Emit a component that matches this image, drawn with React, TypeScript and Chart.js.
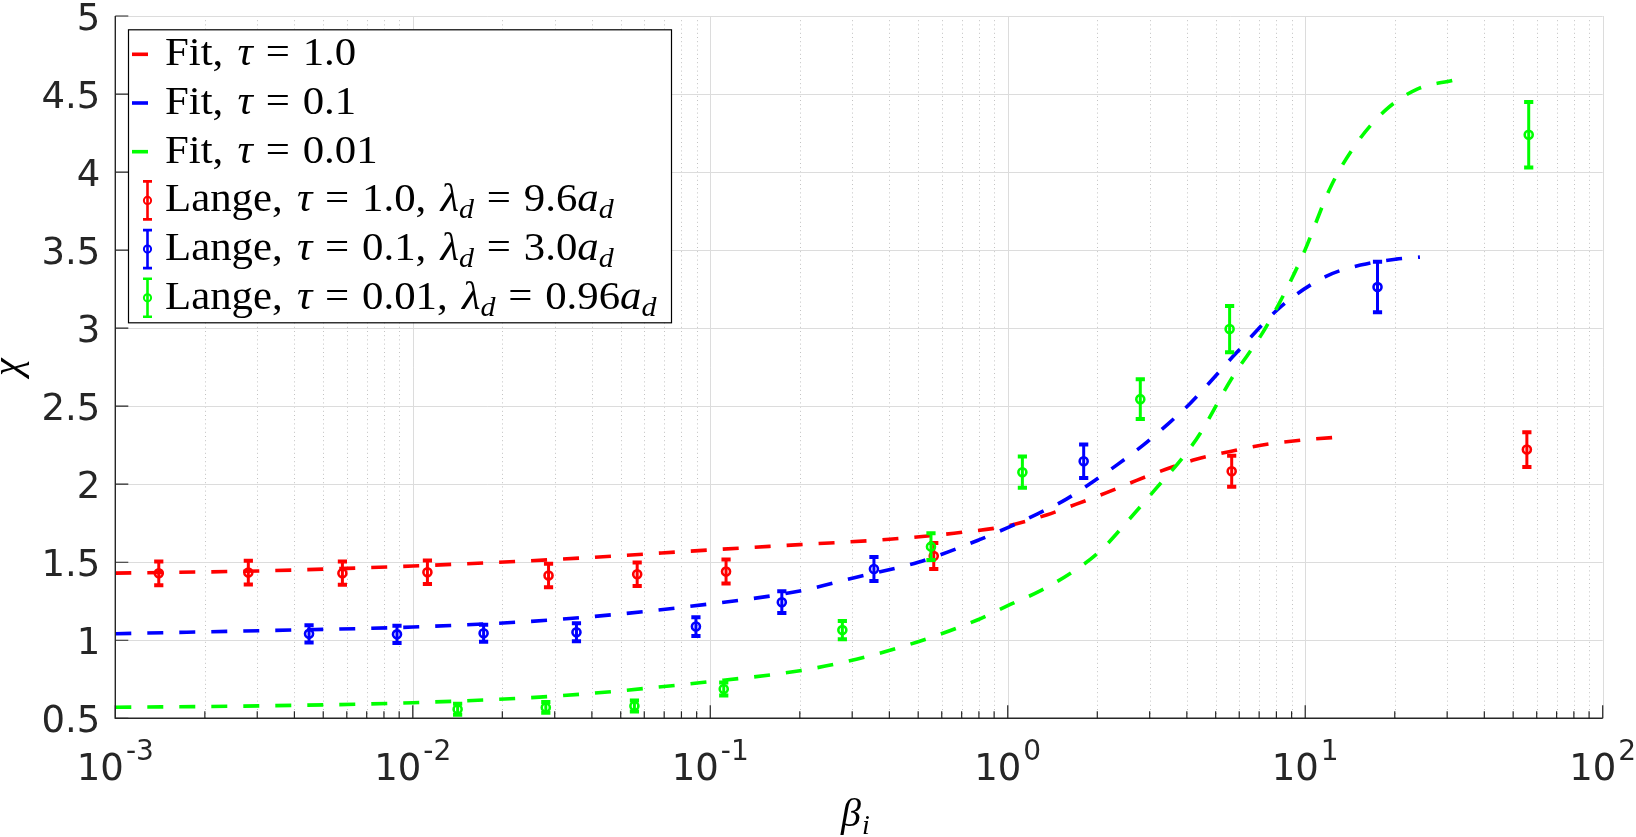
import React, { useEffect, useRef } from 'react';
import { Chart, registerables } from 'chart.js';

Chart.register(...registerables);

// fitted curves (beta_i -> chi)
const fitRedBeta = [0.001, 0.00316, 0.01, 0.0316, 0.1, 0.2, 0.4, 0.66, 1.0, 1.35, 1.7, 2.15, 2.7, 3.4, 4.3, 5.6, 7.1, 10, 13.8];
const fitRedChi = [1.43, 1.445, 1.476, 1.52, 1.579, 1.613, 1.647, 1.686, 1.733, 1.803, 1.872, 1.946, 2.023, 2.096, 2.16, 2.21, 2.25, 2.285, 2.305];

const fitBlueBeta = [0.001, 0.00316, 0.01, 0.0316, 0.1, 0.2, 0.31, 0.5, 0.8, 1.0, 1.26, 1.58, 1.95, 2.33, 2.86, 3.43, 4.11, 5.86, 8.3, 11.7, 15.5, 20.2, 24.3];
const fitBlueChi = [1.042, 1.062, 1.085, 1.135, 1.233, 1.316, 1.404, 1.5, 1.643, 1.722, 1.81, 1.906, 2.021, 2.124, 2.252, 2.38, 2.519, 2.84, 3.139, 3.33, 3.406, 3.442, 3.455];

const fitGreenBeta = [0.001, 0.00316, 0.01, 0.0316, 0.1, 0.2, 0.31, 0.5, 0.79, 1.0, 1.29, 1.67, 2.05, 2.58, 3.18, 3.9, 4.44, 5.62, 7.4, 9.77, 12.2, 14.9, 18.7, 23.7, 31.6];
const fitGreenChi = [0.571, 0.58, 0.6, 0.645, 0.735, 0.805, 0.878, 0.991, 1.13, 1.222, 1.318, 1.444, 1.574, 1.782, 1.981, 2.177, 2.327, 2.668, 3.01, 3.459, 3.908, 4.186, 4.4, 4.53, 4.59];

// Lange data with error bars
const langeRedBeta = [0.0014, 0.0028, 0.0058, 0.0112, 0.0286, 0.0568, 0.113, 0.564, 5.66, 55.6];
const langeRedChi = [1.429, 1.434, 1.43, 1.436, 1.415, 1.423, 1.44, 1.54, 2.083, 2.222];
const langeRedErr = [0.076, 0.076, 0.074, 0.075, 0.076, 0.075, 0.077, 0.083, 0.1, 0.111];

const langeBlueBeta = [0.00448, 0.00885, 0.0173, 0.0355, 0.0895, 0.174, 0.355, 1.8, 17.5];
const langeBlueChi = [1.041, 1.038, 1.045, 1.051, 1.088, 1.244, 1.457, 2.147, 3.263];
const langeBlueErr = [0.055, 0.055, 0.055, 0.058, 0.06, 0.07, 0.077, 0.107, 0.162];

const langeGreenBeta = [0.01415, 0.028, 0.0556, 0.111, 0.278, 0.552, 1.12, 2.79, 5.57, 56.4];
const langeGreenChi = [0.558, 0.57, 0.579, 0.688, 1.065, 1.6, 2.077, 2.545, 2.994, 4.239];
const langeGreenErr = [0.036, 0.035, 0.035, 0.042, 0.058, 0.085, 0.1, 0.127, 0.148, 0.21];

const yTicks = [0.5, 1, 1.5, 2, 2.5, 3, 3.5, 4, 4.5, 5];
const yTickLabels = ['0.5', '1', '1.5', '2', '2.5', '3', '3.5', '4', '4.5', '5'];
const xDecades = [-3, -2, -1, 0, 1, 2];
const xTickExps = ['-3', '-2', '-1', '0', '1', '2'];

type Seg = { t?: string; it?: boolean; sub?: boolean; gap?: number };

const fitLabel = (tau: string): Seg[] => [
  { t: 'Fit,' }, { gap: 0.333 }, { t: 'τ', it: true }, { gap: 0.3 }, { t: '=' }, { gap: 0.3 }, { t: tau },
];
const langeLabel = (tau: string, lam: string): Seg[] => [
  { t: 'Lange,' }, { gap: 0.333 }, { t: 'τ', it: true }, { gap: 0.3 }, { t: '=' }, { gap: 0.3 }, { t: tau + ',' },
  { gap: 0.333 }, { t: 'λ', it: true }, { t: 'd', it: true, sub: true }, { gap: 0.3 }, { t: '=' }, { gap: 0.3 },
  { t: lam }, { t: 'a', it: true }, { t: 'd', it: true, sub: true },
];

const legendEntries = [
  { kind: 'line', color: '#ff0000', label: fitLabel('1.0') },
  { kind: 'line', color: '#0000ff', label: fitLabel('0.1') },
  { kind: 'line', color: '#00ff00', label: fitLabel('0.01') },
  { kind: 'err', color: '#ff0000', label: langeLabel('1.0', '9.6') },
  { kind: 'err', color: '#0000ff', label: langeLabel('0.1', '3.0') },
  { kind: 'err', color: '#00ff00', label: langeLabel('0.01', '0.96') },
];

const toPoints = (xs: number[], ys: number[]) => xs.map((x, i) => ({ x, y: ys[i] }));

const AXIS = '#262626';
const SERIF = '"Liberation Serif", "DejaVu Serif", serif';
const SANS = '"DejaVu Sans", sans-serif';

function drawRich(ctx: CanvasRenderingContext2D, segs: Seg[], x: number, baseline: number, size: number) {
  for (const s of segs) {
    if (s.gap) { x += s.gap * size; continue; }
    const fs = s.sub ? size * 0.7 : size;
    ctx.font = `${s.it ? 'italic ' : ''}${fs}px ${SERIF}`;
    ctx.fillText(s.t as string, x, s.sub ? baseline + size * 0.17 : baseline);
    x += ctx.measureText(s.t as string).width;
  }
}

const errorBars = {
  id: 'errorBars',
  afterDatasetDraw(chart: any, args: any) {
    const ds = chart.data.datasets[args.index];
    if (!ds.errors) return;
    const { ctx } = chart;
    const xs = chart.scales.x;
    const ys = chart.scales.y;
    ctx.save();
    ctx.strokeStyle = ds.borderColor;
    ds.data.forEach((p: any, i: number) => {
      const px = xs.getPixelForValue(p.x);
      const top = ys.getPixelForValue(p.y + ds.errors[i]);
      const bot = ys.getPixelForValue(p.y - ds.errors[i]);
      ctx.lineWidth = 3;
      ctx.beginPath();
      ctx.moveTo(px, top); ctx.lineTo(px, bot);
      ctx.stroke();
      ctx.lineWidth = 4;
      ctx.beginPath();
      ctx.moveTo(px - 4.6, top); ctx.lineTo(px + 4.6, top);
      ctx.moveTo(px - 4.6, bot); ctx.lineTo(px + 4.6, bot);
      ctx.stroke();
    });
    ctx.restore();
  },
};

const matlabAxes = {
  id: 'matlabAxes',
  beforeDatasetsDraw(chart: any) {
    const { ctx, chartArea: a } = chart;
    const xs = chart.scales.x;
    const ys = chart.scales.y;
    ctx.save();
    // minor x grid (dotted)
    ctx.strokeStyle = '#c2c2c2';
    ctx.lineWidth = 1;
    ctx.setLineDash([1, 3.2]);
    for (const d of xDecades.slice(0, -1)) {
      for (let k = 2; k <= 9; k++) {
        const px = Math.round(xs.getPixelForValue(k * Math.pow(10, d))) + 0.5;
        ctx.beginPath(); ctx.moveTo(px, a.top); ctx.lineTo(px, a.bottom); ctx.stroke();
      }
    }
    ctx.setLineDash([]);
    ctx.strokeStyle = '#dcdcdc';
    for (const d of xDecades) {
      const px = Math.round(xs.getPixelForValue(Math.pow(10, d))) + 0.5;
      ctx.beginPath(); ctx.moveTo(px, a.top); ctx.lineTo(px, a.bottom); ctx.stroke();
    }
    for (const v of yTicks) {
      const py = Math.round(ys.getPixelForValue(v)) + 0.5;
      ctx.beginPath(); ctx.moveTo(a.left, py); ctx.lineTo(a.right, py); ctx.stroke();
    }
    ctx.restore();
  },
  afterDatasetsDraw(chart: any) {
    const { ctx, chartArea: a } = chart;
    const xs = chart.scales.x;
    const ys = chart.scales.y;
    ctx.save();
    ctx.strokeStyle = AXIS;
    ctx.lineWidth = 1.4;
    ctx.beginPath();
    ctx.moveTo(a.left, a.top); ctx.lineTo(a.left, a.bottom); ctx.lineTo(a.right, a.bottom);
    ctx.stroke();
    ctx.lineWidth = 1.2;
    ctx.beginPath();
    for (const v of yTicks) {
      const py = ys.getPixelForValue(v);
      ctx.moveTo(a.left, py); ctx.lineTo(a.left + 13, py);
    }
    for (const d of xDecades) {
      const px = xs.getPixelForValue(Math.pow(10, d));
      ctx.moveTo(px, a.bottom); ctx.lineTo(px, a.bottom - 13);
      if (d < 2) {
        for (let k = 2; k <= 9; k++) {
          const mx = xs.getPixelForValue(k * Math.pow(10, d));
          ctx.moveTo(mx, a.bottom); ctx.lineTo(mx, a.bottom - 7);
        }
      }
    }
    ctx.stroke();
    ctx.restore();
  },
  afterDraw(chart: any) {
    const { ctx, chartArea: a } = chart;
    const xs = chart.scales.x;
    const ys = chart.scales.y;
    ctx.save();
    ctx.fillStyle = AXIS;
    ctx.textBaseline = 'alphabetic';
    // y tick labels
    ctx.font = `37px ${SANS}`;
    ctx.textAlign = 'right';
    yTicks.forEach((v, i) => {
      ctx.fillText(yTickLabels[i], a.left - 15, ys.getPixelForValue(v) + 13.5);
    });
    // x tick labels 10^n
    ctx.textAlign = 'left';
    xDecades.forEach((d, i) => {
      const px = xs.getPixelForValue(Math.pow(10, d));
      ctx.font = `37px ${SANS}`;
      const wb = ctx.measureText('10').width;
      ctx.font = `28px ${SANS}`;
      const we = ctx.measureText(xTickExps[i]).width;
      const x0 = px - (wb + we + 2) / 2;
      ctx.font = `37px ${SANS}`;
      ctx.fillText('10', x0, a.bottom + 62);
      ctx.font = `28px ${SANS}`;
      ctx.fillText(xTickExps[i], x0 + wb + 2, a.bottom + 42);
    });
    // axis titles
    ctx.fillStyle = '#000';
    ctx.font = `italic 40px ${SERIF}`;
    ctx.textAlign = 'left';
    const cx = (a.left + a.right) / 2;
    ctx.fillText('β', cx - 18, a.bottom + 108);
    const wbeta = ctx.measureText('β').width;
    ctx.font = `italic 28px ${SERIF}`;
    ctx.fillText('i', cx - 18 + wbeta + 1, a.bottom + 116);
    ctx.save();
    ctx.translate(20, (a.top + a.bottom) / 2);
    ctx.rotate(-Math.PI / 2);
    ctx.textAlign = 'center';
    ctx.font = `italic 40px ${SERIF}`;
    ctx.fillText('χ', 0, 0);
    ctx.restore();

    // legend box
    const lx = a.left + 12.7;
    const ly = a.top + 13.3;
    ctx.fillStyle = '#fff';
    ctx.fillRect(lx, ly, 543, 293);
    ctx.strokeStyle = '#000';
    ctx.lineWidth = 1.2;
    ctx.strokeRect(lx + 0.5, ly + 0.5, 543, 293);
    legendEntries.forEach((e, i) => {
      const cy = ly + 25 + i * 48.7;
      ctx.strokeStyle = e.color;
      if (e.kind === 'line') {
        ctx.lineWidth = 3.6;
        ctx.beginPath(); ctx.moveTo(lx + 4, cy); ctx.lineTo(lx + 20, cy); ctx.stroke();
      } else {
        const ex = lx + 19.5;
        ctx.lineWidth = 2.6;
        ctx.beginPath();
        ctx.moveTo(ex, cy - 19); ctx.lineTo(ex, cy + 19);
        ctx.moveTo(ex - 4.5, cy - 19); ctx.lineTo(ex + 4.5, cy - 19);
        ctx.moveTo(ex - 4.5, cy + 19); ctx.lineTo(ex + 4.5, cy + 19);
        ctx.stroke();
        ctx.lineWidth = 2;
        ctx.beginPath(); ctx.arc(ex, cy, 3.6, 0, Math.PI * 2); ctx.stroke();
      }
      ctx.fillStyle = '#000';
      ctx.save();
      ctx.translate(lx + 37, cy + 11);
      ctx.scale(1.07, 1);
      drawRich(ctx, e.label, 0, 0, 40);
      ctx.restore();
    });
    ctx.restore();
  },
};

const fitLine = (label: string, color: string, xs: number[], ys: number[], order: number) => ({
  type: 'line' as const,
  label,
  data: toPoints(xs, ys),
  borderColor: color,
  borderWidth: 3.6,
  borderDash: [16, 16],
  pointRadius: 0,
  fill: false,
  cubicInterpolationMode: 'monotone' as const,
  order,
});

const langeSet = (label: string, color: string, xs: number[], ys: number[], errs: number[], order: number) => ({
  type: 'scatter' as const,
  label,
  data: toPoints(xs, ys),
  errors: errs,
  borderColor: color,
  backgroundColor: 'rgba(0,0,0,0)',
  pointRadius: 4,
  pointBorderWidth: 2.6,
  pointStyle: 'circle',
  showLine: false,
  order,
});

export default function App() {
  const canvasRef = useRef<HTMLCanvasElement>(null);

  useEffect(() => {
    if (!canvasRef.current) return;
    const chart = new Chart(canvasRef.current, {
      type: 'line',
      data: {
        datasets: [
          fitLine('Fit, tau = 1.0', '#ff0000', fitRedBeta, fitRedChi, 5),
          fitLine('Fit, tau = 0.1', '#0000ff', fitBlueBeta, fitBlueChi, 4),
          fitLine('Fit, tau = 0.01', '#00ff00', fitGreenBeta, fitGreenChi, 3),
          langeSet('Lange, tau = 1.0', '#ff0000', langeRedBeta, langeRedChi, langeRedErr, 2),
          langeSet('Lange, tau = 0.1', '#0000ff', langeBlueBeta, langeBlueChi, langeBlueErr, 1),
          langeSet('Lange, tau = 0.01', '#00ff00', langeGreenBeta, langeGreenChi, langeGreenErr, 0),
        ] as any,
      },
      options: {
        responsive: false,
        animation: false,
        events: [],
        layout: { padding: { top: 16, right: 33.3, left: 0, bottom: 0 } },
        plugins: { legend: { display: false }, tooltip: { enabled: false } },
        scales: {
          x: {
            type: 'logarithmic',
            min: 0.001,
            max: 100,
            grid: { display: false },
            border: { display: false },
            ticks: { display: false },
            afterFit: (s: any) => { s.height = 118.7; },
          },
          y: {
            type: 'linear',
            min: 0.5,
            max: 5,
            grid: { display: false },
            border: { display: false },
            ticks: { display: false, stepSize: 0.5 },
            afterFit: (s: any) => { s.width = 115.3; },
          },
        },
      } as any,
      plugins: [errorBars, matlabAxes],
    });
    return () => chart.destroy();
  }, []);

  return (
    <div style={{ position: 'fixed', left: 0, top: 0, width: 1636, height: 837, background: '#fff' }}>
      <canvas ref={canvasRef} width={1636} height={837} style={{ display: 'block' }} />
    </div>
  );
}
